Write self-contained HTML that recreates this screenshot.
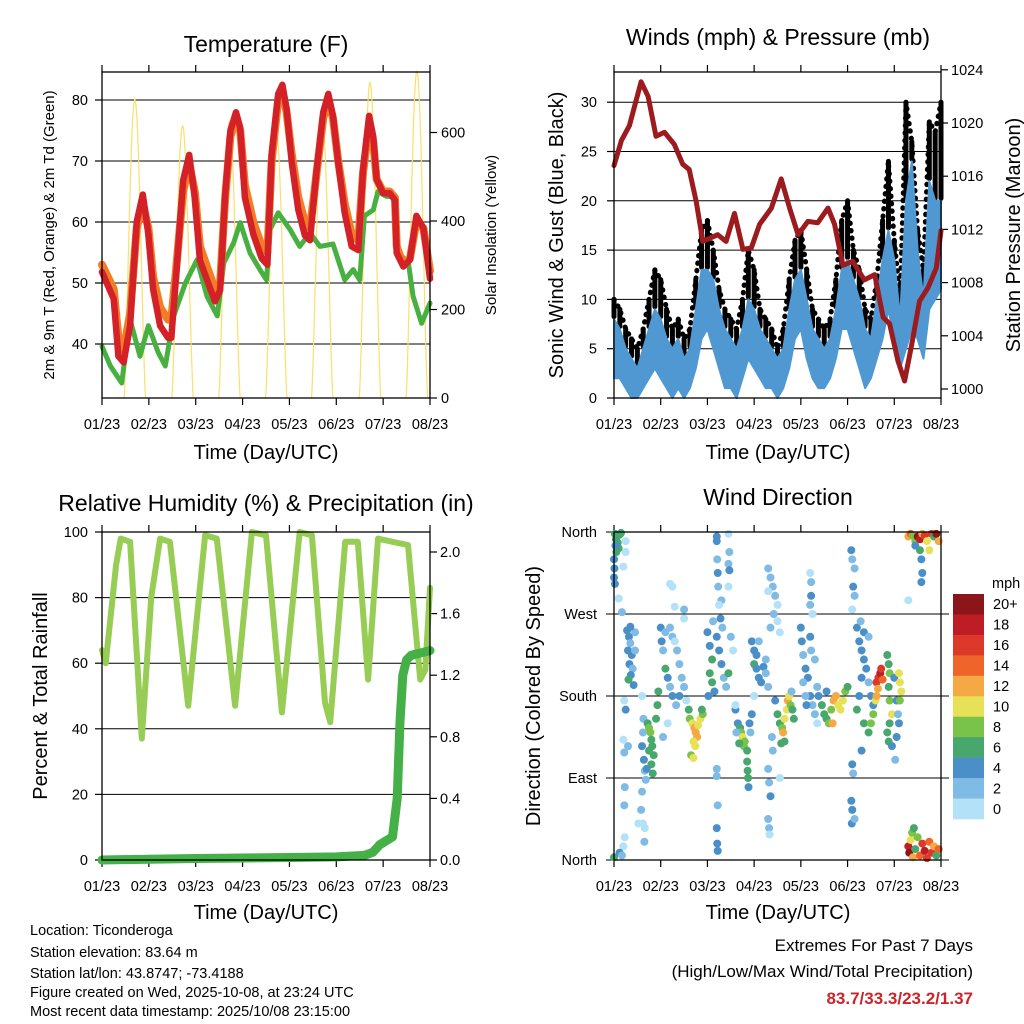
<!DOCTYPE html>
<html><head><meta charset="utf-8">
<style>
html,body{margin:0;padding:0;background:#fff;}
svg{display:block;font-family:"Liberation Sans",Arial,sans-serif;}
</style></head>
<body>
<svg id="chart" width="1024" height="1024" viewBox="0 0 1024 1024" xmlns="http://www.w3.org/2000/svg">
<rect x="0" y="0" width="1024" height="1024" fill="#fff"/>
<text x="266" y="52" font-size="23" text-anchor="middle">Temperature (F)</text>
<text x="778" y="45" font-size="23" text-anchor="middle">Winds (mph) &amp; Pressure (mb)</text>
<text x="266" y="511" font-size="23" text-anchor="middle">Relative Humidity (%) &amp; Precipitation (in)</text>
<text x="778" y="505" font-size="23" text-anchor="middle">Wind Direction</text>
<text x="266" y="459" font-size="20" text-anchor="middle">Time (Day/UTC)</text>
<text x="778" y="459" font-size="20" text-anchor="middle">Time (Day/UTC)</text>
<text x="266" y="919" font-size="20" text-anchor="middle">Time (Day/UTC)</text>
<text x="778" y="919" font-size="20" text-anchor="middle">Time (Day/UTC)</text>
<text transform="translate(54,235) rotate(-90)" font-size="15" text-anchor="middle">2m &amp; 9m T (Red, Orange) &amp; 2m Td (Green)</text>
<text transform="translate(496,235) rotate(-90)" font-size="15" text-anchor="middle">Solar Insolation (Yellow)</text>
<text transform="translate(563,235) rotate(-90)" font-size="20" text-anchor="middle">Sonic Wind &amp; Gust (Blue, Black)</text>
<text transform="translate(1020,235) rotate(-90)" font-size="20" text-anchor="middle">Station Pressure (Maroon)</text>
<text transform="translate(47,696) rotate(-90)" font-size="20" text-anchor="middle">Percent &amp; Total Rainfall</text>
<text transform="translate(540,696) rotate(-90)" font-size="20" text-anchor="middle">Direction (Colored By Speed)</text>
<g font-size="14.5">
<text x="30" y="935">Location: Ticonderoga</text>
<text x="30" y="957">Station elevation: 83.64 m</text>
<text x="30" y="978">Station lat/lon: 43.8747; -73.4188</text>
<text x="30" y="997">Figure created on Wed, 2025-10-08, at 23:24 UTC</text>
<text x="30" y="1016">Most recent data timestamp: 2025/10/08 23:15:00</text>
</g>
<g text-anchor="end" font-size="17">
<text x="973" y="951">Extremes For Past 7 Days</text>
<text x="973" y="977">(High/Low/Max Wind/Total Precipitation)</text>
<text x="973" y="1004" fill="#c8262b" font-weight="bold">83.7/33.3/23.2/1.37</text>
</g>
</svg>
<script>
// ---------- DATA ----------
const xTickLabels = ["01/23","02/23","03/23","04/23","05/23","06/23","07/23","08/23"];
const tempTicks = [40,50,60,70,80];
const solarTicks = [0,200,400,600];
const windTicks = [0,5,10,15,20,25,30];
const pressTicks = [1000,1004,1008,1012,1016,1020,1024];
const rhTicks = [0,20,40,60,80,100];
const rainTicks = [0.0,0.4,0.8,1.2,1.6,2.0];
const dirTickLabels = ["North","East","South","West","North"];
const dirTickDeg = [0,90,180,270,360];
const speedBins = ["0","2","4","6","8","10","12","14","16","18","20+"];

const tempDay = [0,0.25,0.35,0.46,0.6,0.74,0.87,0.99,1.09,1.24,1.41,1.48,1.59,1.73,1.86,1.98,2.09,2.27,2.41,2.52,2.63,2.74,2.86,2.95,3.05,3.23,3.41,3.53,3.62,3.76,3.85,3.94,4.05,4.19,4.33,4.44,4.58,4.72,4.83,4.93,5.04,5.18,5.33,5.47,5.57,5.70,5.79,5.86,6.0,6.14,6.25,6.29,6.43,6.57,6.71,6.86,7.0];
const tempRed = [51.8,47.4,38,37,43,60,64.5,58,49,43,41,41,52,66.8,71,64,53.7,49.9,47,48.8,64.6,75,78,75.5,64,58,54,53,71,81,82.5,78.5,69.7,62,57.8,57,68.5,78,81,77.4,69.7,61.5,56,55.4,68.5,77.4,74,67,64.7,64.7,63.6,54.9,52.7,53.8,61,59,50.7];
const tempOrange = [53,49,41,39,45,59,63,59,51,46,44,44,53,65,69.5,65,56,52,49,50,64,74,77,75,66,60,56,55,70,80,81.5,78,71,64,60,59,68,77,80,77,70,63,58,57,68,76,73,67,65,65,64,56,53,54,60,59,52];
const dewDay = [0,0.18,0.42,0.6,0.81,0.99,1.2,1.35,1.53,1.78,2.03,2.24,2.46,2.6,2.81,2.95,3.16,3.37,3.51,3.59,3.76,4.01,4.22,4.44,4.65,4.93,5.18,5.36,5.5,5.6,5.79,5.89,6.07,6.25,6.33,6.54,6.64,6.82,7.0];
const dewPoint = [39.6,36.4,33.6,44,38,43,38.6,36.4,44.6,50,53.8,47.8,44.6,53.3,56.6,59.9,54.9,52.2,50.5,58.8,61.5,58.8,56,58.2,56,56.4,50.5,52.2,50.5,61,62,65,64.2,64.2,54.9,53.3,47.8,43.4,46.7];
const solarPeakDay = [0.70,1.72,2.72,3.72,4.70,5.72,6.72];
const solarPeak = [675,615,625,605,630,713,738];

const windHi = [8,7,5,4,3,5,7,9, 8,6,5,6,4,5,9,13, 13,12,9,7,6,5,7,10, 9,7,6,5,4,5,9,12, 13,10,7,6,5,6,9,13, 14,12,10,7,6,10,14,17, 14,8,20,24,15,10,22,20, 20];
const windLo = [2,2,1,0,0,1,2,3, 2,1,0,1,0,1,3,6, 7,5,3,1,1,0,2,4, 3,2,1,1,0,1,3,6, 7,4,2,1,1,2,4,7, 7,5,3,1,2,4,6,9, 6,3,5,7,6,4,9,10, 11];
const gust = [10,9,7,6,5,7,10,13, 12,9,7,8,6,7,12,17, 18,15,11,9,8,7,10,15, 13,9,8,7,5,7,12,16, 17,13,9,8,7,8,12,18, 20,15,13,9,8,12,18,24, 16,10,30,26,17,13,28,27, 30];
const pressDay = [0,0.16,0.33,0.58,0.73,0.9,1.08,1.29,1.47,1.61,1.76,1.9,2.22,2.4,2.58,2.76,2.94,3.12,3.37,3.58,3.76,3.94,4.15,4.36,4.58,4.72,4.9,5.11,5.36,5.58,5.76,5.9,6.08,6.22,6.37,6.54,6.72,6.9,7.0];
const pressure = [1016.8,1018.7,1019.8,1023.1,1022,1019,1019.3,1018.4,1016.9,1016.5,1014.1,1011.1,1011.6,1011.1,1013.2,1010.5,1010.6,1012.4,1013.6,1015.8,1013.6,1011.6,1012.6,1012.5,1013.6,1012.4,1009.3,1009.6,1008.2,1008.6,1005.4,1004.9,1002.1,1000.6,1003.3,1006.6,1007.6,1009.1,1011.9];

const rhDay = [0,0.08,0.3,0.4,0.6,0.85,1.05,1.24,1.45,1.84,2.2,2.45,2.84,3.2,3.5,3.84,4.22,4.48,4.76,4.87,5.19,5.46,5.68,5.89,6.2,6.53,6.79,6.9,7.0];
const rhVal = [64,60,90,98,97,37,80,98,97,47,99,98,47,100,99,45,100,99,48,42,97,97,55,98,97,96,55,58,83];
const rainDay = [0,1.0,2.0,3.0,4.0,5.0,5.6,5.78,5.93,6.2,6.3,6.36,6.42,6.5,6.6,7.0];
const rainVal = [0.0,0.005,0.01,0.013,0.016,0.02,0.03,0.05,0.1,0.15,0.4,0.9,1.2,1.3,1.33,1.36];

const dirDay = [0.02,0.04,0.06,0.08,0.1,0.05,0.12,0.15,0.03,0.0,0.01,0.0,0.02,0.25,0.25,0.2,0.1,0.17,0.28,0.32,0.35,0.3,0.38,0.33,0.4,0.36,0.31,0.42,0.45,0.45,0.35,0.22,0.25,0.2,0.22,0.3,0.6,0.63,0.62,0.6,0.64,0.66,0.68,0.6,0.58,0.62,0.66,0.65,0.52,0.23,0.22,0.23,0.2,0.0,0.12,0.17,0.72,0.75,0.78,0.8,0.82,0.85,0.75,0.8,0.83,0.7,0.9,0.93,0.95,1.0,1.02,1.05,1.1,1.15,1.2,1.25,1.1,1.25,1.3,1.35,1.4,1.45,1.5,1.55,1.33,1.4,1.2,1.3,1.25,1.05,1.15,1.5,1.5,1.2,1.62,1.68,1.72,1.75,1.78,1.7,1.74,1.8,1.85,1.9,1.65,1.7,1.88,1.6,2.0,2.05,2.1,2.05,2.1,2.02,2.15,2.2,2.25,2.3,2.35,2.4,2.45,2.5,2.55,2.32,2.28,2.12,2.2,2.2,2.21,2.22,2.23,2.3,2.25,2.2,2.2,2.22,2.2,2.21,2.22,2.45,2.47,2.45,2.47,2.45,2.6,2.65,2.7,2.72,2.75,2.8,2.78,2.85,2.9,2.95,2.92,2.62,2.68,2.85,2.86,2.87,2.88,2.6,2.95,3.0,3.05,3.0,3.05,3.1,3.15,3.2,3.25,3.3,3.25,3.1,3.0,3.3,3.35,3.4,3.45,3.5,3.42,3.3,3.5,3.55,3.35,3.3,3.32,3.35,3.3,3.32,3.33,3.55,3.4,3.38,3.45,3.5,3.55,3.6,3.62,3.65,3.7,3.72,3.75,3.78,3.82,3.85,3.65,3.58,3.8,4.0,4.02,4.05,4.1,4.15,4.2,4.25,4.3,4.35,4.05,4.1,4.2,4.22,4.3,4.35,4.12,4.2,4.22,4.22,4.2,4.25,4.38,4.45,4.5,4.55,4.6,4.65,4.7,4.75,4.8,4.85,4.9,4.95,5.0,4.68,4.55,5.08,5.1,5.15,5.12,5.15,5.1,5.08,5.1,5.09,5.15,5.1,5.12,5.2,5.25,5.3,5.35,5.3,5.4,5.45,5.5,5.55,5.25,5.2,5.35,5.45,5.5,5.55,5.28,5.35,5.45,5.3,5.62,5.66,5.7,5.72,5.75,5.65,5.6,5.62,5.85,5.88,5.9,5.88,5.9,5.95,5.9,5.85,5.88,5.95,6.0,6.05,6.08,6.1,6.1,6.12,6.15,6.12,6.05,6.02,6.3,6.35,6.4,6.45,6.5,6.55,6.6,6.65,6.7,6.75,6.8,6.85,6.9,6.95,6.55,6.58,6.6,6.58,6.3,6.45,6.3,6.32,6.35,6.38,6.4,6.45,6.5,6.55,6.6,6.65,6.7,6.75,6.8,6.85,6.9,6.95,6.42];
const dirDeg = [358,352,355,348,342,338,357,359,345,330,320,310,303,350,338,322,287,272,252,245,238,230,225,215,210,203,198,192,230,250,256,175,165,132,118,125,180,155,140,125,110,98,88,75,55,40,35,20,40,80,60,25,15,3,8,5,150,145,140,132,125,115,120,105,95,100,155,170,185,255,240,230,210,200,190,180,250,245,240,230,215,200,190,175,170,180,255,278,300,135,150,275,265,303,155,150,145,140,135,130,125,148,155,160,115,112,165,165,250,235,220,205,195,180,185,245,230,215,200,190,205,245,230,255,265,262,355,350,330,315,300,285,280,100,92,60,35,18,10,358,338,325,318,300,165,150,145,140,135,130,125,120,150,160,140,140,128,108,98,90,80,170,240,230,225,215,210,200,195,212,205,190,220,240,180,320,310,300,290,280,270,295,262,250,255,100,85,70,45,35,28,90,120,135,175,160,150,145,140,155,165,175,180,170,165,155,130,128,185,255,240,225,210,200,180,170,160,150,195,180,245,230,220,190,170,315,305,290,280,270,180,170,160,155,150,165,175,180,170,165,175,185,190,150,185,340,330,320,300,290,275,65,55,40,45,105,95,255,240,230,220,200,210,195,180,170,180,165,150,140,150,160,262,250,245,120,195,200,205,210,198,188,175,180,225,215,205,190,175,160,150,140,130,125,200,175,160,150,205,195,185,175,135,110,355,358,356,350,355,352,358,356,350,340,358,355,358,350,340,330,315,305,285,345,15,8,22,30,3,12,25,5,18,10,2,20,8,15,5,12,35];
const dirSpd = [6,6,6,6,6,6,6,6,5,4,4,4,4,1,1,1,1,2,4,4,3,4,4,4,3,5,7,4,3,2,4,1,4,1,2,2,1,3,3,4,4,3,2,2,2,1,1,3,1,2,2,1,1,6,4,2,7,8,8,7,6,6,6,6,6,4,6,6,6,4,4,3,6,4,3,4,3,2,1,2,2,3,2,1,2,5,2,1,1,2,1,2,1,1,8,10,12,12,12,10,10,10,10,9,8,10,7,6,4,4,7,6,7,4,5,4,4,5,3,2,6,2,1,2,4,2,4,4,2,4,2,2,1,2,3,2,4,4,4,1,2,2,4,1,4,4,6,8,10,9,8,7,4,4,3,2,6,6,6,6,4,1,4,4,4,6,4,4,4,4,3,3,2,2,1,2,2,2,2,1,2,1,1,1,2,2,2,4,2,2,1,1,2,2,4,6,6,8,12,10,10,12,10,8,6,6,6,6,2,4,4,2,4,4,4,2,2,1,2,3,4,2,2,2,4,1,2,4,2,1,4,6,6,7,8,9,12,12,11,10,10,8,6,12,4,4,2,2,4,2,1,4,4,4,2,4,2,4,4,4,4,4,4,3,4,4,4,6,6,6,8,8,2,4,2,4,17,16,18,16,14,13,10,12,6,6,8,6,8,10,6,6,6,4,4,4,2,4,10,10,10,8,4,2,12,14,8,8,20,18,12,16,11,10,16,6,20,12,6,4,4,4,1,4,18,20,10,8,12,6,8,14,16,18,16,14,16,12,6,14,6];

// ---------- RENDER ----------
const NS = "http://www.w3.org/2000/svg";
const svg = document.getElementById('chart');
function mk(tag, attrs, parent){
  const e = document.createElementNS(NS, tag);
  for (const k in attrs) e.setAttribute(k, attrs[k]);
  (parent || svg).appendChild(e);
  return e;
}
function path(pts){ return pts.map((p,i)=>(i?'L':'M')+p[0].toFixed(1)+' '+p[1].toFixed(1)).join(''); }

const P = {
  temp:{x0:102,x1:430,y0:72,y1:398},
  wind:{x0:614,x1:941,y0:72,y1:398},
  rh:{x0:102,x1:430,y0:532,y1:860},
  dir:{x0:614,x1:941,y0:532,y1:860}
};
function xs(p,d){ return p.x0 + d*(p.x1-p.x0)/7; }
const yT = v => 100 + (80-v)*6.1;
const yS = v => 398 - v*0.4425;
const yW = v => 398 - v*9.86;
const yP = v => 389 - (v-1000)*13.3;
const yRH = v => 860 - v*3.28;
const yR = v => 860 - v*154;
const yD = v => 860 - v*328/360;

function frame(p, key){
  const g = mk('g',{});
  
  
  xTickLabels.forEach((lab,i)=>{
    const x = xs(p,i);
    const t = mk('line',{x1:x,x2:x,y1:p.y1,y2:p.y1+7,stroke:'#000','stroke-width':1.2},g);
    
    
    const t2 = mk('line',{x1:x,x2:x,y1:p.y0,y2:p.y0-7,stroke:'#000','stroke-width':1.2},g);
    
    
    const tx = mk('text',{x:x,y:p.y1+31,'font-size':14.5,'text-anchor':'middle'},g);
    tx.textContent = lab;
    
    
  });
  return g;
}
function border(p,key){
  const r = mk('rect',{x:p.x0,y:p.y0,width:p.x1-p.x0,height:p.y1-p.y0,fill:'none',stroke:'#000','stroke-width':1.3});
  
  
}
function hgrid(p,y,key,ext){
  const l = mk('line',{x1:p.x0-(ext||0),x2:p.x1+(ext||0),y1:y,y2:y,stroke:'#000','stroke-width':1});
  
  
}
function ylab(x,y,txt,anchor,key,size){
  const t = mk('text',{x:x,y:y+5,'font-size':size||14.5,'text-anchor':anchor});
  t.textContent = txt;
  
  
}
function ytick(x,y,len,key){
  const l = mk('line',{x1:x,x2:x+len,y1:y,y2:y,stroke:'#000','stroke-width':1.2});
  
  
}

// ===== Panel 1: Temperature =====
(function(){
  const p = P.temp;
  frame(p,'temp');
  tempTicks.forEach(v=>{ hgrid(p,yT(v),'temp'); ytick(p.x0,yT(v),-7,'temp-y-tick'); ylab(p.x0-14,yT(v),String(v),'end','temp-y-tick-label'); });
  solarTicks.forEach(v=>{ ytick(p.x1,yS(v),7,'solar-y-tick'); ylab(p.x1+11,yS(v),String(v),'start','solar-y-tick-label'); });
  const gs = mk('g',{});
  
  
  solarPeakDay.forEach((pd,i)=>{
    const pts=[]; const a=pd-0.23, b=pd+0.23;
    for(let k=0;k<=40;k++){ const t=a+(b-a)*k/40; const s=Math.sin(Math.PI*k/40); pts.push([xs(p,Math.max(0,Math.min(7,t))), yS(solarPeak[i]*Math.pow(s,1.4))]); }
    const ln = mk('path',{d:path(pts),fill:'none',stroke:'#f9e06a','stroke-width':1.2},gs);
    
    
  });
  const mkLine=(xsArr,ysArr,fy,color,w,name)=>{
    const ln = mk('path',{d:path(xsArr.map((d,i)=>[xs(p,d),fy(ysArr[i])])),fill:'none',stroke:color,'stroke-width':w,'stroke-linejoin':'round','stroke-linecap':'round'});
    
    
  };
  mkLine(dewDay,dewPoint,yT,'#47b040',5,'dewpoint-2m-line');
  mkLine(tempDay,tempOrange,yT,'#f27d25',8,'temp-9m-line');
  mkLine(tempDay,tempRed,yT,'#d42128',6.5,'temp-2m-line');
  border(p,'temp');
})();

// ===== Panel 2: Winds =====
(function(){
  const p = P.wind;
  frame(p,'wind');
  windTicks.forEach(v=>{ if(v>0) hgrid(p,yW(v),'wind'); ytick(p.x0,yW(v),-7,'wind-y-tick'); ylab(p.x0-17,yW(v),String(v),'end','wind-y-tick-label'); });
  pressTicks.forEach(v=>{ ytick(p.x1,yP(v),7,'pressure-y-tick'); ylab(p.x1+10,yP(v),String(v),'start','pressure-y-tick-label'); });
  const n = windHi.length;
  const up = windHi.map((v,i)=>[xs(p,i*7/(n-1)),yW(v)]);
  const lo = windLo.map((v,i)=>[xs(p,i*7/(n-1)),yW(v)]).reverse();
  const gg = mk('g',{});
  
  
  const gl = mk('path',{d:path(gust.map((v,i)=>[xs(p,i*7/(n-1)),yW(v)])),fill:'none',stroke:'#000','stroke-width':5,'stroke-dasharray':'0.5 7','stroke-linecap':'round'},gg);
  
  
  gust.forEach((v,i)=>{
    const c = mk('rect',{x:xs(p,i*7/(n-1))-2.5,y:yW(v)-2.5,width:5,height:Math.max(0,yW(windHi[i])-yW(v))+2.5,fill:'#000',rx:2.5},gg);
    
    
  });
  const band = mk('path',{d:path(up.concat(lo))+'Z',fill:'#5098d2',stroke:'#5098d2','stroke-width':2,'stroke-linejoin':'round'});
  
  
  const pl = mk('path',{d:path(pressDay.map((d,i)=>[xs(p,d),yP(pressure[i])])),fill:'none',stroke:'#9b1b1f','stroke-width':5,'stroke-linejoin':'round','stroke-linecap':'round'});
  
  
  border(p,'wind');
})();

// ===== Panel 3: RH & Rain =====
(function(){
  const p = P.rh;
  frame(p,'rh');
  rhTicks.forEach(v=>{ hgrid(p,yRH(v),'rh'); ytick(p.x0,yRH(v),-7,'rh-y-tick'); ylab(p.x0-14,yRH(v),String(v),'end','rh-y-tick-label'); });
  rainTicks.forEach(v=>{ ytick(p.x1,yR(v),7,'rain-y-tick'); ylab(p.x1+10,yR(v),v.toFixed(1),'start','rain-y-tick-label'); });
  const rl = mk('path',{d:path(rhDay.map((d,i)=>[xs(p,d),yRH(rhVal[i])])),fill:'none',stroke:'#97cc55','stroke-width':6,'stroke-linejoin':'round','stroke-linecap':'round'});
  
  
  const pr = mk('path',{d:path(rainDay.map((d,i)=>[xs(p,d),yR(rainVal[i])])),fill:'none',stroke:'#45b047','stroke-width':9,'stroke-linejoin':'round','stroke-linecap':'round'});
  
  
  border(p,'rh');
})();

// ===== Panel 4: Wind direction =====
const binColors = ["#b3e1f8","#7fbbe5","#4a8fc7","#47a76d","#7ac34a","#e6e157","#f5a945","#ef6429","#dc392b","#be1d25","#8c1519"];
(function(){
  const p = P.dir;
  frame(p,'dir');
  dirTickDeg.forEach((v,i)=>{ hgrid(p,yD(v),'dir',8); ylab(p.x0-17,yD(v),dirTickLabels[i],'end','dir-y-tick-label'); });
  const g = mk('g',{});
  
  
  dirDay.forEach((d,i)=>{
    const b = Math.min(10, Math.floor(dirSpd[i]/2));
    const c = mk('circle',{cx:xs(p,d),cy:yD(dirDeg[i]),r:4,fill:binColors[b]},g);
    
    
  });
  border(p,'dir');
  const cb = mk('g',{});
  
  
  const t = mk('text',{x:992,y:588,'font-size':14.5},cb);
  t.textContent='mph';
  
  
  const h = 225/speedBins.length;
  speedBins.slice().reverse().forEach((lab,j)=>{
    const idx = speedBins.length-1-j;
    const r = mk('rect',{x:953,y:594+j*h,width:31,height:h+0.3,fill:binColors[idx]},cb);
    
    
    const tl = mk('text',{x:993,y:594+j*h+h/2+5,'font-size':14.5},cb);
    tl.textContent = lab;
    
    
  });
})();
</script>
</body></html>
